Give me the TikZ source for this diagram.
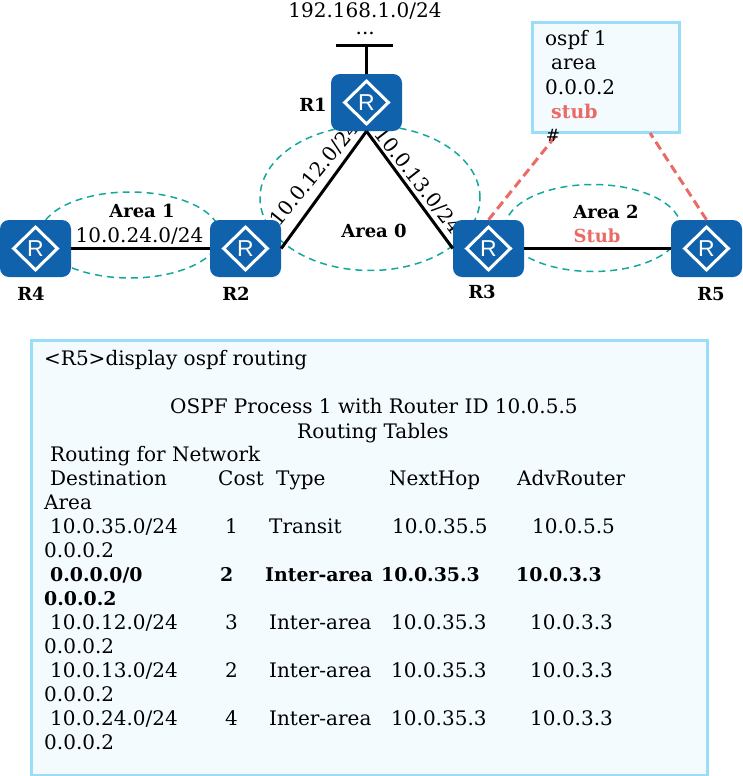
\documentclass[tikz,border=0pt]{standalone}
\usepackage{fontspec}
\usepackage{xcolor}
\setmainfont{DejaVu Serif}
\newfontfamily\markfont{Liberation Sans}
\usetikzlibrary{positioning,shapes.geometric}
\definecolor{routerblue}{HTML}{1062AC}
\definecolor{areateal}{HTML}{12A89D}
\definecolor{stubred}{HTML}{EA6B66}
\definecolor{panelline}{HTML}{99DDF9}
\definecolor{panelfill}{HTML}{F3FBFF}
\tikzset{
  router/.style={draw=none,fill=routerblue,rounded corners=9pt,minimum width=71pt,minimum height=57pt,inner sep=0pt},
  rmark/.style={diamond,draw=white,line width=3pt,minimum width=45pt,minimum height=44pt,inner sep=0pt,text=white,font=\markfont\fontsize{23}{23}\selectfont},
  area/.style={ellipse,draw=areateal,line width=1.5pt,dash pattern=on 7pt off 5pt,inner sep=0pt},
  link/.style={line width=3pt},
  stublink/.style={draw=stubred,line width=3pt,dash pattern=on 9pt off 5pt},
  panel/.style={draw=panelline,fill=panelfill,line width=3pt,inner sep=0pt},
  txt/.style={inner sep=0pt,font=\fontsize{20}{24}\selectfont},
  cell/.style={txt,anchor=base west},
  boldcell/.style={cell,font=\fontsize{18.9}{24}\selectfont\bfseries},
  lab/.style={inner sep=0pt,font=\fontsize{18}{22}\selectfont\bfseries}
}
\begin{document}
\begin{tikzpicture}[x=1pt,y=-1pt]
\useasboundingbox (0,0) rectangle (742,776);

\node[area, minimum width=180pt, minimum height=86pt] (area1) at (130,235) {};
\node[area, minimum width=220pt, minimum height=145pt] (area0) at (370,198) {};
\node[area, minimum width=176pt, minimum height=87pt] (area2) at (593,228) {};

\node[txt, rotate=51] (net12) at (315,174) {10.0.12.0/24};
\node[txt, rotate=-52] (net13) at (418,181) {10.0.13.0/24};

\node[panel, minimum width=147pt, minimum height=110pt] (cfg) at (606,77.5) {};
\node[panel, minimum width=676pt, minimum height=435pt] (out) at (369,557.5) {};

\coordinate (top) at (366.5,46);
\coordinate (barl) at (336,46);
\coordinate (barr) at (393,46);
\coordinate (cfgl) at (558,133);
\coordinate (cfgr) at (650,133);

\node[router] (r1) at (366.5,102.5) {};
\node[router] (r2) at (245.5,248.5) {};
\node[router] (r3) at (488.5,248.5) {};
\node[router] (r4) at (35.5,248.5) {};
\node[router] (r5) at (706.5,248.5) {};

\node[rmark] (m1) at (r1) {R};
\node[rmark] (m2) at (r2) {R};
\node[rmark] (m3) at (r3) {R};
\node[rmark] (m4) at (r4) {R};
\node[rmark] (m5) at (r5) {R};

\draw[link] (r1.north) -- (top);
\draw[link] (barl) -- (barr);
\draw[link] (r1.south) -- (r2.east);
\draw[link] (r1.south) -- (r3.west);
\draw[link] (r4.east) -- (r2.west);
\draw[link] (r3.east) -- (r5.west);
\draw[stublink] (r3.north) -- (cfgl);
\draw[stublink] (r5.north) -- (cfgr);

\node[txt] (lan) at (365,11) {192.168.1.0/24};
\node[cell] (landots) at (355.5,35) {...};
\node[txt] (net24) at (139.5,236) {10.0.24.0/24};

\node[lab] (l1) at (313,105) {R1};
\node[lab] (l2) at (236,294) {R2};
\node[lab] (l3) at (482,292) {R3};
\node[lab] (l4) at (31,294) {R4};
\node[lab] (l5) at (711,294) {R5};
\node[lab] (a0) at (374,231) {Area 0};
\node[lab] (a1) at (142,211) {Area 1};
\node[lab] (a2) at (606,212) {Area 2};
\node[lab, text=stubred] (a2s) at (597,236) {Stub};

\node[cell] (c1) at (545,46) {ospf 1};
\node[cell] (c2) at (551,70) {area};
\node[cell] (c3) at (545,94) {0.0.0.2};
\node[boldcell, text=stubred] (c4) at (551,118) {stub};
\node[txt] (hash) at (553,135) {\fontsize{17}{20}\selectfont\#};

\node[cell] (o1) at (44,365) {<R5>display ospf routing};
\node[cell] (o2) at (170,413) {OSPF Process 1 with Router ID 10.0.5.5};
\node[cell] (o3) at (297,438) {Routing Tables};
\node[cell] (o4) at (50,461) {Routing for Network};

\node[cell] (h1) at (50,485) {Destination};
\node[cell] (h2) at (218,485) {Cost};
\node[cell] (h3) at (276,485) {Type};
\node[cell] (h4) at (389,485) {NextHop};
\node[cell] (h5) at (517,485) {AdvRouter};
\node[cell] (h6) at (44,509) {Area};

\node[cell] (a1a) at (50,533) {10.0.35.0/24};
\node[cell] (a1b) at (225,533) {1};
\node[cell] (a1c) at (269,533) {Transit};
\node[cell] (a1d) at (392,533) {10.0.35.5};
\node[cell] (a1e) at (532,533) {10.0.5.5};
\node[cell] (a1f) at (44,557) {0.0.0.2};

\node[boldcell] (b1a) at (50,581) {0.0.0.0/0};
\node[boldcell] (b1b) at (220,581) {2};
\node[boldcell] (b1c) at (265,581) {Inter-area};
\node[boldcell] (b1d) at (381,581) {10.0.35.3};
\node[boldcell] (b1e) at (516,581) {10.0.3.3};
\node[boldcell] (b1f) at (44,605) {0.0.0.2};

\node[cell] (a2a) at (50,629) {10.0.12.0/24};
\node[cell] (a2b) at (225,629) {3};
\node[cell] (a2c) at (269,629) {Inter-area};
\node[cell] (a2d) at (391,629) {10.0.35.3};
\node[cell] (a2e) at (530,629) {10.0.3.3};
\node[cell] (a2f) at (44,653) {0.0.0.2};

\node[cell] (a3a) at (50,677) {10.0.13.0/24};
\node[cell] (a3b) at (225,677) {2};
\node[cell] (a3c) at (269,677) {Inter-area};
\node[cell] (a3d) at (391,677) {10.0.35.3};
\node[cell] (a3e) at (530,677) {10.0.3.3};
\node[cell] (a3f) at (44,701) {0.0.0.2};

\node[cell] (a4a) at (50,725) {10.0.24.0/24};
\node[cell] (a4b) at (225,725) {4};
\node[cell] (a4c) at (269,725) {Inter-area};
\node[cell] (a4d) at (391,725) {10.0.35.3};
\node[cell] (a4e) at (530,725) {10.0.3.3};
\node[cell] (a4f) at (44,749) {0.0.0.2};
\end{tikzpicture}
\end{document}
